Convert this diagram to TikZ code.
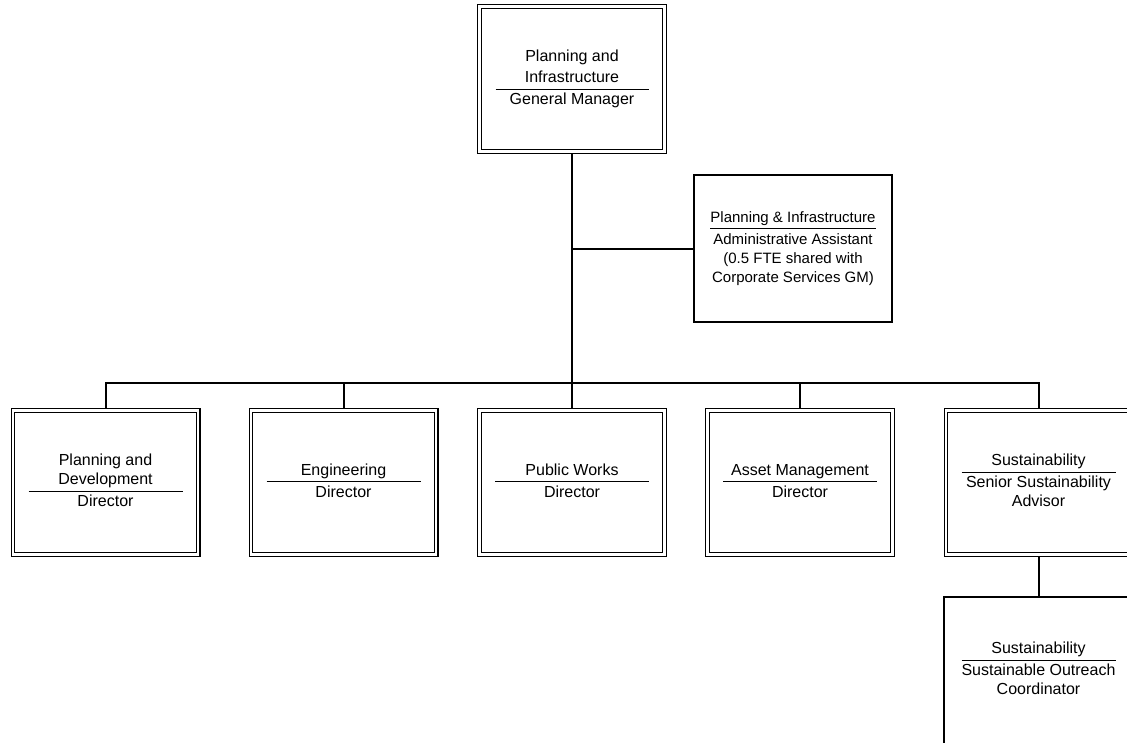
\documentclass[tikz,border=0pt]{standalone}
\usepackage{fontspec}
\setmainfont{Liberation Sans}
\usepackage{array}
\usetikzlibrary{backgrounds}
\setlength{\arrayrulewidth}{1.2pt}
% title lines, a rule across the cell, then the position
\newcommand\orgcell[3]{\begin{tabular}{@{}>{\centering\arraybackslash}p{#1}@{}}#2\\\hline \rule{0pt}{15pt}#3\end{tabular}}

\begin{document}
\begin{tikzpicture}[x=1pt,y=-1pt,
  every node/.style={inner sep=0pt, font=\fontsize{16}{19}\selectfont},
  dbox/.style={draw, line width=1.2pt, double, double distance=2.4pt,
               minimum width=185.2pt, minimum height=144.2pt},
  sbox/.style={draw, line width=1.7pt, minimum height=147.4pt},
  link/.style={line width=2pt}]
\useasboundingbox (0,0) rectangle (1127,742);
\clip (0,0) rectangle (1127,742);

% general manager
\node[dbox, minimum height=145.2pt, font=\fontsize{16}{21}\selectfont] (gm) at (572,79)
  {\orgcell{153pt}{Planning and\\Infrastructure}{General Manager}};

% administrative support
\node[sbox, minimum width=198.4pt, font=\fontsize{15}{19}\selectfont] (admin) at (793,248.5)
  {\orgcell{166pt}{Planning \& Infrastructure}{Administrative Assistant\\(0.5 FTE shared with\\Corporate Services GM)}};

% directors
\node[dbox] (pd)  at (105.5,482.5) {\orgcell{154pt}{Planning and\\Development}{Director}};
\node[dbox] (eng) at (343.5,482.5) {\orgcell{154pt}{Engineering}{Director}};
\node[dbox] (pw)  at (572,482.5)   {\orgcell{154pt}{Public Works}{Director}};
\node[dbox] (am)  at (800,482.5)   {\orgcell{154pt}{Asset Management}{Director}};
\node[dbox] (sus) at (1038.5,482.5) {\orgcell{154pt}{Sustainability}{Senior Sustainability\\Advisor}};

% sustainability staff
\node[sbox, minimum width=188.4pt] (coord) at (1038.5,670.5)
  {\orgcell{154pt}{Sustainability}{Sustainable Outreach\\Coordinator}};

\coordinate (bus) at (572,383);

\begin{scope}[on background layer]
  \draw[link] (gm.south) -- (pw.north);
  \draw[link] (admin.west) -- (admin.west -| gm.south);
  \draw[link] (pd.north) |- (bus) -| (sus.north);
  \draw[link] (eng.north) -- (eng.north |- bus);
  \draw[link] (am.north) -- (am.north |- bus);
  \draw[link] (sus.south) -- (coord.north);
\end{scope}
\end{tikzpicture}
\end{document}
